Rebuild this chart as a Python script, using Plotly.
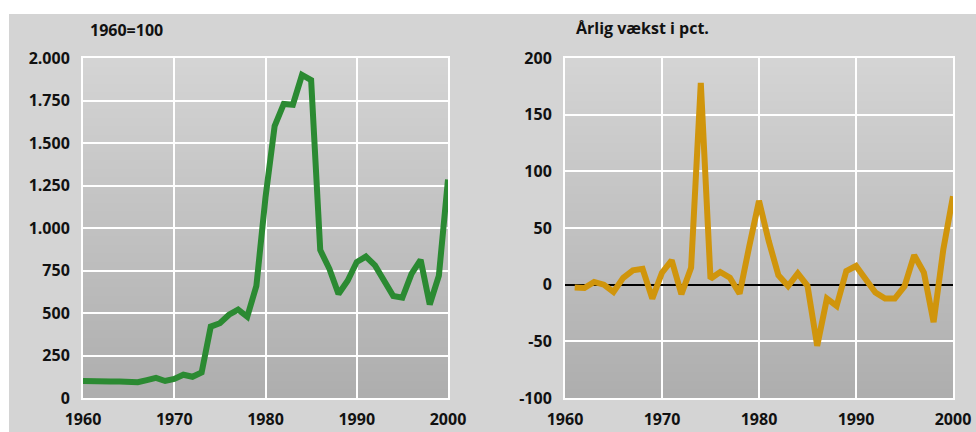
import plotly.graph_objects as go

years_index = list(range(1960, 2001))
index_values = [100, 97, 95, 97, 97, 92, 93, 105, 118, 100,
                112, 137, 125, 150, 420, 440, 490, 520, 478, 660,
                1180, 1600, 1730, 1725, 1900, 1870, 870, 760, 612, 690,
                800, 832, 780, 690, 600, 590, 730, 812, 550, 720,
                1285]

years_growth = list(range(1961, 2001))
growth_values = [-2.6, -3, 2.4, 0, -6.4, 6, 12.7, 14, -12.3,
                 10.6, 21.5, -8.5, 15, 178, 5.3, 11.2, 6.2, -8, 34,
                 74, 38.6, 8.3, -1.2, 10, -1, -54, -12.3, -18.8, 12,
                 16.5, 4.7, -7, -12.3, -12.3, -1.5, 26, 10.6, -33, 31,
                 78]

left_title = "1960=100"
right_title = "Årlig vækst i pct."
x_ticks = [1960, 1970, 1980, 1990, 2000]
left_y_ticks = [0, 250, 500, 750, 1000, 1250, 1500, 1750, 2000]
left_y_labels = ["0", "250", "500", "750", "1.000", "1.250", "1.500", "1.750", "2.000"]
right_y_ticks = [-100, -50, 0, 50, 100, 150, 200]
right_y_labels = ["-100", "-50", "0", "50", "100", "150", "200"]

W, H = 976, 432
TICKFONT = dict(family="Open Sans", size=16, color="#111111", weight="bold")

fig = go.Figure()
fig.add_trace(go.Scatter(x=years_index, y=index_values, mode="lines",
                         line=dict(color="#2b8a32", width=6),
                         xaxis="x", yaxis="y", showlegend=False, hoverinfo="skip"))
fig.add_trace(go.Scatter(x=years_growth, y=growth_values, mode="lines",
                         line=dict(color="#d0950c", width=6),
                         xaxis="x2", yaxis="y2", showlegend=False, hoverinfo="skip"))

shapes = []
# panel background
shapes.append(dict(type="rect", xref="paper", yref="paper",
                   x0=9 / W, x1=1, y0=0, y1=1 - 14 / H,
                   fillcolor="#d4d4d4", line=dict(width=0), layer="below"))
# gradient plot backgrounds
n = 40
top = (212, 212, 212)
bot = (174, 174, 174)
for xr, yr in (("x domain", "y domain"), ("x2 domain", "y2 domain")):
    for i in range(n):
        t = (i + 0.5) / n
        c = tuple(round(top[k] + (bot[k] - top[k]) * t) for k in range(3))
        shapes.append(dict(type="rect", xref=xr, yref=yr,
                           x0=0, x1=1, y0=1 - (i + 1) / n - 0.002, y1=1 - i / n,
                           fillcolor="rgb(%d,%d,%d)" % c,
                           line=dict(width=0), layer="below"))

ydom = [1 - 398 / H, 1 - 58 / H]
common_x = dict(range=[1960, 2000], tickvals=x_ticks, showgrid=True,
                gridcolor="white", gridwidth=2, zeroline=False,
                showline=True, mirror=True, linecolor="white", linewidth=2,
                ticks="", tickfont=TICKFONT, automargin=False,
                ticklabelstandoff=6)
common_y = dict(showgrid=True, gridcolor="white", gridwidth=2,
                showline=True, mirror=True, linecolor="white", linewidth=2,
                ticks="", tickfont=TICKFONT, automargin=False,
                ticklabelstandoff=8)

fig.update_layout(
    width=W, height=H,
    margin=dict(l=0, r=0, t=0, b=0, pad=0),
    paper_bgcolor="white", plot_bgcolor="rgba(0,0,0,0)",
    shapes=shapes,
    hovermode=False,
    xaxis=dict(domain=[83 / W, 448 / W], anchor="y", **common_x),
    yaxis=dict(domain=ydom, anchor="x", range=[0, 2000], tickvals=left_y_ticks,
               ticktext=left_y_labels, zeroline=False, **common_y),
    xaxis2=dict(domain=[565 / W, 953 / W], anchor="y2", **common_x),
    yaxis2=dict(domain=ydom, anchor="x2", range=[-100, 200], tickvals=right_y_ticks,
                ticktext=right_y_labels,
                zeroline=True, zerolinecolor="black", zerolinewidth=2, **common_y),
    annotations=[
        dict(text="<b>%s</b>" % left_title, xref="paper", yref="paper",
             x=88 / W, y=1 - 30 / H, xanchor="left", yanchor="middle",
             showarrow=False, font=dict(family="Open Sans", size=16, color="#111111")),
        dict(text="<b>%s</b>" % right_title, xref="paper", yref="paper",
             x=574 / W, y=1 - 28 / H, xanchor="left", yanchor="middle",
             showarrow=False, font=dict(family="Open Sans", size=16, color="#111111")),
    ],
)

fig.write_html("out.html", config={"displayModeBar": False, "staticPlot": True},
               post_script="document.body.style.margin='0';document.body.style.overflow='hidden';")
